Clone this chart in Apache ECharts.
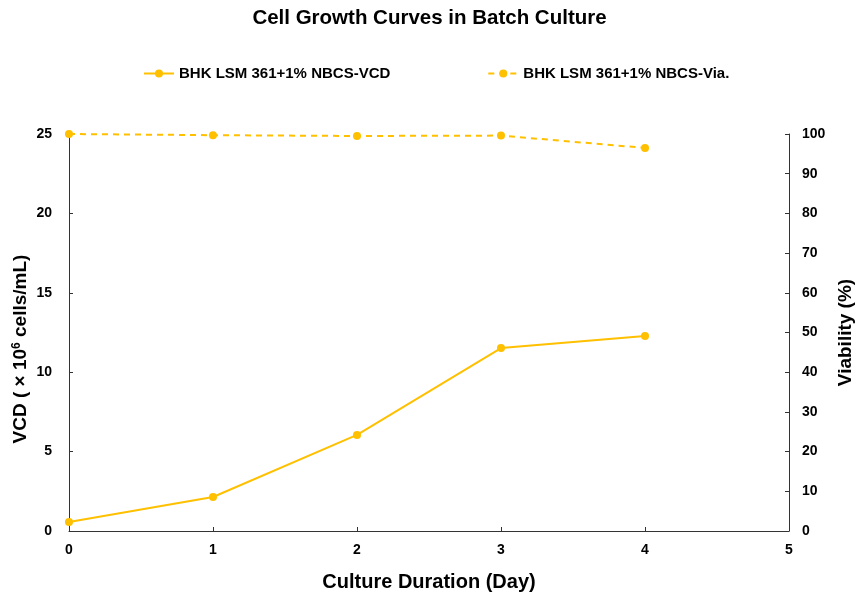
<!DOCTYPE html>
<html><head><meta charset="utf-8">
<script src="https://cdn.jsdelivr.net/npm/echarts@6/dist/echarts.min.js"></script>
<style>html,body{margin:0;padding:0;background:#fff}#c{width:859px;height:605px}</style>
</head><body><div id="c"></div>
<script>
const days = [0, 1, 2, 3, 4];
const vcd = [0.57, 2.14, 6.05, 11.52, 12.28];
const viability = [100, 99.7, 99.5, 99.6, 96.5];
const xTicks = [0, 1, 2, 3, 4, 5];
const leftTicks = [0, 5, 10, 15, 20, 25];
const rightTicks = [0, 10, 20, 30, 40, 50, 60, 70, 80, 90, 100];

const color = '#FFC000';
const font = 'Liberation Sans, Arial, sans-serif';
const chart = echarts.init(document.getElementById('c'));
const axisCommon = {
  axisLine: {show: true, lineStyle: {color: '#333', width: 1}},
  axisTick: {show: true, inside: true, length: 4, lineStyle: {color: '#333'}},
  splitLine: {show: false},
  axisLabel: {color: '#000', fontWeight: 'bold', fontSize: 14, fontFamily: font},
  nameTextStyle: {color: '#000', fontWeight: 'bold', fontSize: 19, fontFamily: font}
};
chart.setOption({
  animation: false,
  title: {text: 'Cell Growth Curves in Batch Culture', left: 'center', top: 3,
    textStyle: {fontSize: 20.5, fontWeight: 'bold', fontFamily: font, color: '#000'}},
  legend: {top: 61, left: 138, itemGap: 97, itemWidth: 30, itemHeight: 10,
    textStyle: {fontSize: 15, fontWeight: 'bold', fontFamily: font, color: '#000'}},
  grid: {left: 69, right: 70, top: 134, bottom: 74, outerBoundsMode: 'none', containLabel: false},
  graphic: [{
    type: 'text', x: 21, y: 349, rotation: Math.PI / 2, silent: true,
    style: {
      text: '{t|VCD ( × 10}{s|6}{t| cells/mL)}',
      align: 'center', verticalAlign: 'middle',
      rich: {
        t: {fontSize: 19, fontWeight: 'bold', fontFamily: font, fill: '#000'},
        s: {fontSize: 12, fontWeight: 'bold', fontFamily: font, fill: '#000', verticalAlign: 'top', padding: [0, 0, 8, 0]}
      }
    }
  }],
  xAxis: Object.assign({}, axisCommon, {
    type: 'value', min: xTicks[0], max: xTicks[xTicks.length - 1], interval: 1,
    name: 'Culture Duration (Day)', nameLocation: 'middle', nameGap: 41,
    nameTextStyle: Object.assign({}, axisCommon.nameTextStyle, {fontSize: 20}),
    axisLabel: Object.assign({}, axisCommon.axisLabel, {margin: 12})
  }),
  yAxis: [
    Object.assign({}, axisCommon, {
      type: 'value', min: leftTicks[0], max: leftTicks[leftTicks.length - 1], interval: 5,
      axisLabel: Object.assign({}, axisCommon.axisLabel, {margin: 17})
    }),
    Object.assign({}, axisCommon, {
      type: 'value', position: 'right', min: rightTicks[0], max: rightTicks[rightTicks.length - 1], interval: 10,
      name: 'Viability (%)', nameLocation: 'middle', nameGap: 44, nameRotate: 90,
      axisLabel: Object.assign({}, axisCommon.axisLabel, {margin: 13})
    })
  ],
  series: [
    {name: 'BHK LSM 361+1% NBCS-VCD', type: 'line', yAxisIndex: 0,
      data: days.map((d, i) => [d, vcd[i]]),
      symbol: 'circle', symbolSize: 8, color: color,
      lineStyle: {color: color, width: 2}, itemStyle: {color: color}},
    {name: 'BHK LSM 361+1% NBCS-Via.', type: 'line', yAxisIndex: 1,
      data: days.map((d, i) => [d, viability[i]]),
      symbol: 'circle', symbolSize: 8, color: color,
      lineStyle: {color: color, width: 2, type: [6, 5]}, itemStyle: {color: color}}
  ]
});
</script></body></html>
